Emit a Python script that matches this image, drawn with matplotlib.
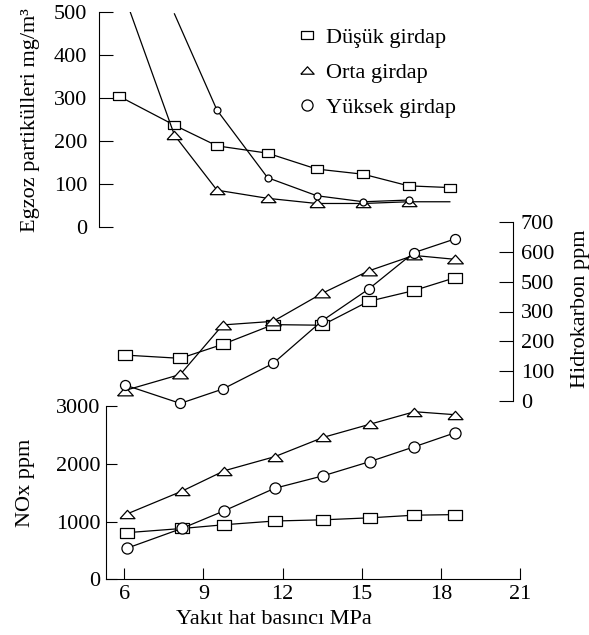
import numpy as np
import matplotlib.pyplot as plt
from matplotlib.lines import Line2D

plt.rcParams['font.family'] = ['Liberation Serif', 'DejaVu Serif']
plt.rcParams['font.size'] = 16

# yakit hat basinci (MPa)
pressure = [6.1, 8.2, 9.8, 11.7, 13.55, 15.3, 17.0, 18.55]

# egzoz partikulleri mg/m3 (ust panel)
pm_low = [304, 236, 188, 171, 134, 122, 95, 91]
pm_mid = [575, 213, 85, 66, 54, 54, 58, 58]
pm_high = [np.nan, 495, 271, 114, 72, 58, 62, np.nan]

# hidrokarbon ppm (orta panel, eksen konumu olarak okundu)
hc_low = [154, 143, 190, 256, 254, 334, 370, 413]
hc_mid = [35, 89, 255, 267, 361, 436, 488, 475]
hc_high = [54, -8, 40, 126, 269, 375, 497, 543]
hc_ticklabels = ['0', '100', '200', '300', '500', '600', '700']

# NOx ppm (alt panel)
nox_low = [807, 880, 945, 1009, 1030, 1064, 1110, 1120]
nox_mid = [1130, 1528, 1880, 2122, 2458, 2683, 2901, 2849]
nox_high = [537, 883, 1188, 1575, 1793, 2036, 2295, 2538]

labels = ['Düşük girdap', 'Orta girdap', 'Yüksek girdap']

W, H = 589, 635
fig = plt.figure(figsize=(W / 100, H / 100), dpi=100)

rect = [(-1.45, -1), (1.45, -1), (1.45, 1), (-1.45, 1), (-1.45, -1)]
tri = [(-1.8, -1), (1.8, -1), (0, 1), (-1.8, -1)]


def px_axes(left, right, top, bottom):
    ax = fig.add_axes([left / W, (H - bottom) / H, (right - left) / W, (bottom - top) / H])
    ax.patch.set_alpha(0)
    for s in ax.spines.values():
        s.set_linewidth(0.8)
    return ax


def series(ax, y, marker, ms, every=None, clip=True):
    ax.plot(pressure, y, color='black', lw=0.9, marker=marker, ms=ms,
            mfc='white', mec='black', mew=0.9, markevery=every, clip_on=clip)


# ust panel
ax1 = px_axes(99, 514.9, 11.7, 226.7)
series(ax1, pm_low, rect, 8.9)
series(ax1, pm_mid, tri, 10.8, every=[1, 2, 3, 4, 5, 6])
series(ax1, pm_high, 'o', 5, every=[2, 3, 4, 5, 6])
ax1.set_xlim(5.365, 20.995)
ax1.set_ylim(0, 500)
ax1.set_yticks([0, 100, 200, 300, 400, 500])
ax1.set_xticks([])
for s in ['top', 'right', 'bottom']:
    ax1.spines[s].set_visible(False)
ax1.tick_params(axis='y', direction='in', length=10, width=0.8, pad=8.5)
ax1.set_ylabel('Egzoz partikülleri mg/m³', va='center')
ax1.yaxis.set_label_coords(-0.165, 0.496)

# orta panel
ax2 = px_axes(103.4, 513, 222, 401)
series(ax2, hc_low, rect, 9.6, clip=False)
series(ax2, hc_mid, tri, 11.3, clip=False)
series(ax2, hc_high, 'o', 7.2, clip=False)
ax2.set_xlim(5.3, 20.745)
ax2.set_ylim(0, 600)
ax2.yaxis.tick_right()
ax2.yaxis.set_label_position('right')
ax2.set_yticks(range(0, 700, 100))
ax2.set_yticklabels(hc_ticklabels)
ax2.set_xticks([])
for s in ['top', 'left', 'bottom']:
    ax2.spines[s].set_visible(False)
ax2.tick_params(axis='y', direction='in', length=10, width=0.8, pad=5.5)
ax2.set_ylabel('Hidrokarbon ppm', rotation=90, va='center')
ax2.yaxis.set_label_coords(1.165, 0.517)

# alt panel
ax3 = px_axes(105.7, 520, 406, 579.3)
series(ax3, nox_low, rect, 9.6)
series(ax3, nox_mid, tri, 10.8)
series(ax3, nox_high, 'o', 8)
ax3.set_xlim(5.3, 21)
ax3.set_ylim(0, 3000)
ax3.set_xticks([6, 9, 12, 15, 18, 21])
ax3.set_yticks([0, 1000, 2000, 3000])
for s in ['top', 'right']:
    ax3.spines[s].set_visible(False)
ax3.tick_params(direction='in', length=8, width=0.8, pad=4)
ax3.set_ylabel('NOx ppm', va='center')
ax3.yaxis.set_label_coords(-0.194, 0.554)
ax3.set_xlabel('Yakıt hat basıncı MPa', va='center')
ax3.xaxis.set_label_coords(0.406, -0.230)

handles = [
    Line2D([], [], ls='none', marker=rect, ms=9.2, mfc='white', mec='black', mew=0.9),
    Line2D([], [], ls='none', marker=tri, ms=9.6, mfc='white', mec='black', mew=0.9),
    Line2D([], [], ls='none', marker='o', ms=8, mfc='white', mec='black', mew=0.9),
]
fig.legend(handles, labels, loc='upper left', bbox_to_anchor=(298 / W, (H - 27) / H),
           frameon=False, borderpad=0, borderaxespad=0, handlelength=0.8,
           handletextpad=0.45, labelspacing=0.65, fontsize=16)

fig.savefig('out.png', dpi=100, facecolor='white')
